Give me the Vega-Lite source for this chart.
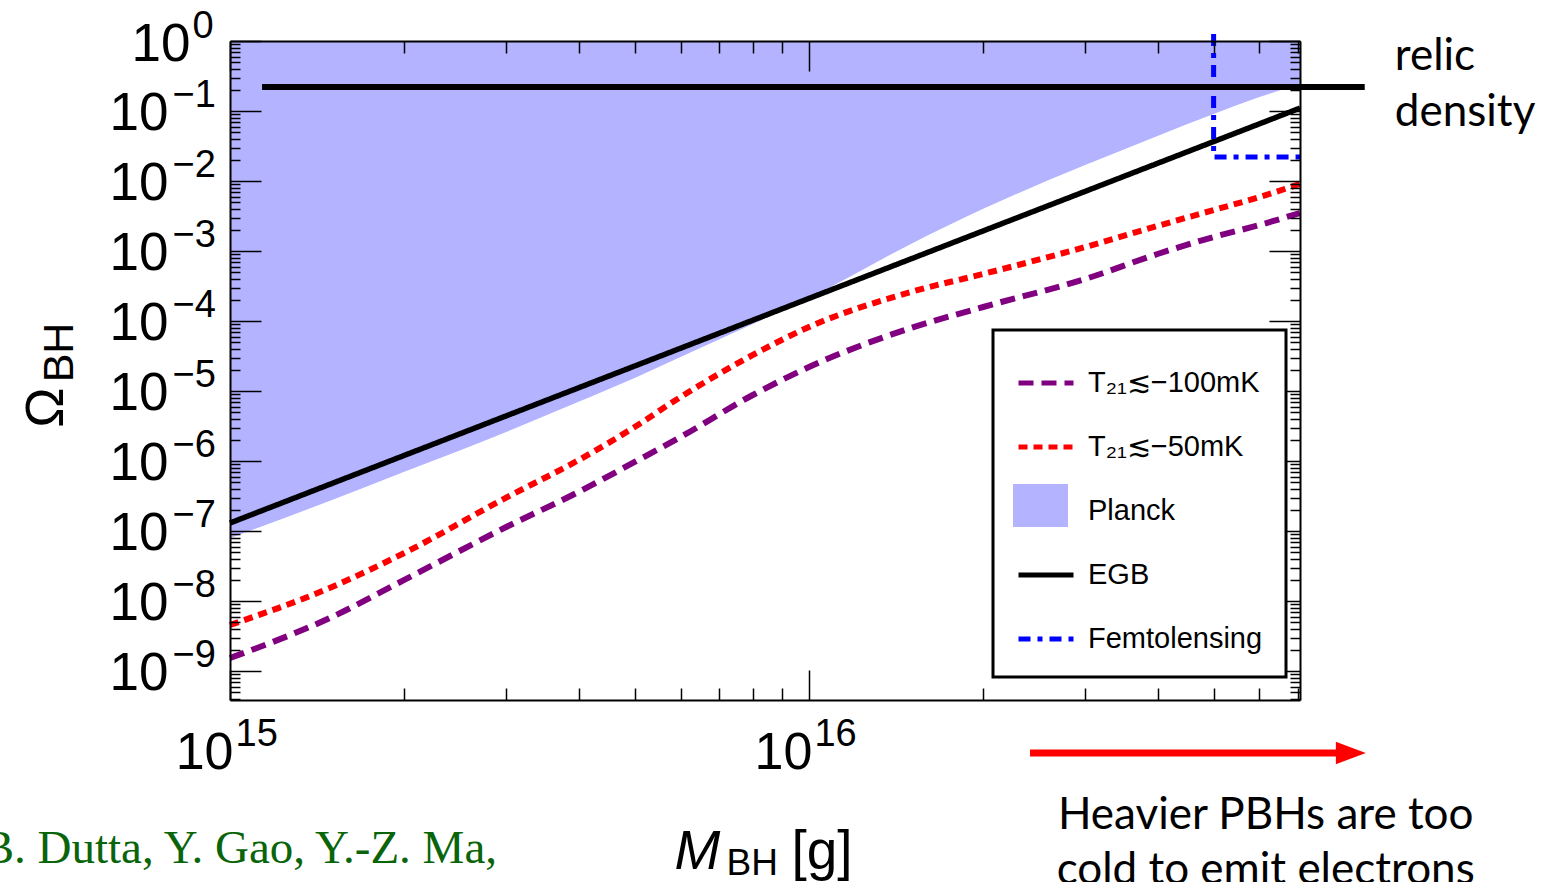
{
  "$schema": "https://vega.github.io/schema/vega-lite/v6.json",
  "width": 1070,
  "height": 659,
  "autosize": {"type": "none"},
  "padding": {"left": 230, "top": 41, "right": 256, "bottom": 182},
  "background": "white",
  "config": {
    "view": {"stroke": null},
    "legend": {"strokeWidth": 3},
    "axis": {"labelFont": "Liberation Sans", "titleFont": "Liberation Sans", "labelColor": "black", "titleColor": "black", "titleFontWeight": "normal", "tickColor": "black", "tickWidth": 1.5, "domainColor": "black", "domainWidth": 2, "grid": false, "zindex": 1, "labelOverlap": false, "labelBound": false, "labelFlush": false}
  },
  "datasets": {
    "planck": [
      {"series": "Planck", "m": 1e15, "omega": 7.9e-8},
      {"series": "Planck", "m": 1.5e15, "omega": 2.77e-7},
      {"series": "Planck", "m": 2e15, "omega": 7.0e-7},
      {"series": "Planck", "m": 3e15, "omega": 2.6e-6},
      {"series": "Planck", "m": 4e15, "omega": 7.0e-6},
      {"series": "Planck", "m": 5e15, "omega": 1.53e-5},
      {"series": "Planck", "m": 6e15, "omega": 3.06e-5},
      {"series": "Planck", "m": 8e15, "omega": 9.06e-5},
      {"series": "Planck", "m": 1e16, "omega": 2.13e-4},
      {"series": "Planck", "m": 1.5e16, "omega": 1.26e-3},
      {"series": "Planck", "m": 2e16, "omega": 4.0e-3},
      {"series": "Planck", "m": 3e16, "omega": 1.69e-2},
      {"series": "Planck", "m": 4e16, "omega": 4.4e-2},
      {"series": "Planck", "m": 5e16, "omega": 9.06e-2},
      {"series": "Planck", "m": 6e16, "omega": 0.158},
      {"series": "Planck", "m": 7.05e16, "omega": 0.243}
    ],
    "egb": [
      {"series": "EGB", "m": 1e15, "omega": 1.3e-7},
      {"series": "EGB", "m": 1e16, "omega": 2.1e-4},
      {"series": "EGB", "m": 7.05e16, "omega": 0.11}
    ],
    "t100": [
      {"series": "T₂₁≲−100mK", "m": 1e15, "omega": 1.53e-9},
      {"series": "T₂₁≲−100mK", "m": 1.5e15, "omega": 5.91e-9},
      {"series": "T₂₁≲−100mK", "m": 2e15, "omega": 2.0e-8},
      {"series": "T₂₁≲−100mK", "m": 3e15, "omega": 1.14e-7},
      {"series": "T₂₁≲−100mK", "m": 4e15, "omega": 3.61e-7},
      {"series": "T₂₁≲−100mK", "m": 5e15, "omega": 9.68e-7},
      {"series": "T₂₁≲−100mK", "m": 6e15, "omega": 2.2e-6},
      {"series": "T₂₁≲−100mK", "m": 8e15, "omega": 8.77e-6},
      {"series": "T₂₁≲−100mK", "m": 1e16, "omega": 2.2e-5},
      {"series": "T₂₁≲−100mK", "m": 1.5e16, "omega": 7.94e-5},
      {"series": "T₂₁≲−100mK", "m": 2e16, "omega": 1.585e-4},
      {"series": "T₂₁≲−100mK", "m": 3e16, "omega": 3.98e-4},
      {"series": "T₂₁≲−100mK", "m": 4e16, "omega": 9.06e-4},
      {"series": "T₂₁≲−100mK", "m": 5e16, "omega": 1.585e-3},
      {"series": "T₂₁≲−100mK", "m": 6e16, "omega": 2.35e-3},
      {"series": "T₂₁≲−100mK", "m": 7.05e16, "omega": 3.49e-3}
    ],
    "t50": [
      {"series": "T₂₁≲−50mK", "m": 1e15, "omega": 4.54e-9},
      {"series": "T₂₁≲−50mK", "m": 1.5e15, "omega": 1.585e-8},
      {"series": "T₂₁≲−50mK", "m": 2e15, "omega": 4.85e-8},
      {"series": "T₂₁≲−50mK", "m": 3e15, "omega": 3.0e-7},
      {"series": "T₂₁≲−50mK", "m": 4e15, "omega": 1.03e-6},
      {"series": "T₂₁≲−50mK", "m": 5e15, "omega": 3.06e-6},
      {"series": "T₂₁≲−50mK", "m": 6e15, "omega": 8.2e-6},
      {"series": "T₂₁≲−50mK", "m": 8e15, "omega": 3.27e-5},
      {"series": "T₂₁≲−50mK", "m": 1e16, "omega": 8.2e-5},
      {"series": "T₂₁≲−50mK", "m": 1.5e16, "omega": 2.6e-4},
      {"series": "T₂₁≲−50mK", "m": 2e16, "omega": 4.7e-4},
      {"series": "T₂₁≲−50mK", "m": 3e16, "omega": 1.14e-3},
      {"series": "T₂₁≲−50mK", "m": 4e16, "omega": 2.28e-3},
      {"series": "T₂₁≲−50mK", "m": 5e16, "omega": 3.85e-3},
      {"series": "T₂₁≲−50mK", "m": 6e16, "omega": 5.9e-3},
      {"series": "T₂₁≲−50mK", "m": 7.05e16, "omega": 9.1e-3}
    ],
    "femto": [
      {"series": "Femtolensing", "i": 0, "m": 5e16, "omega": 1.26},
      {"series": "Femtolensing", "i": 1, "m": 5e16, "omega": 0.022},
      {"series": "Femtolensing", "i": 2, "m": 7.05e16, "omega": 0.022}
    ],
    "relic": [
      {"m": 1.136e15, "omega": 0.22},
      {"m": 9.12e16, "omega": 0.22}
    ],
    "arrow": [
      {"m": 2.409e16, "omega": 6.74e-11},
      {"m": 8.26e16, "omega": 6.74e-11}
    ],
    "arrowhead": [
      {"m": 8.63e16, "omega": 6.74e-11}
    ],
    "relicNote": [{"label": "relic\ndensity", "m": 1.028e17, "omega": 0.385}],
    "coldNote": [{"label": "Heavier PBHs are too\ncold to emit electrons", "m": 6.15e16, "omega": 5.53e-12}],
    "citation": [{"label": "B. Dutta, Y. Gao, Y.-Z. Ma,", "m": 2.892e15, "omega": 1.807e-12}]
  },
  "resolve": {"axis": {"x": "independent", "y": "independent"}},
  "layer": [
    {
      "data": {"name": "planck"},
      "mark": {"type": "area", "interpolate": "monotone", "opacity": 1},
      "encoding": {
        "x": {"field": "m", "type": "quantitative",
          "scale": {"type": "log", "domain": [1e15, 7.05e16], "nice": false},
          "axis": {
            "orient": "bottom", "values": [1e15, 1e16], "zindex": 1,
            "labelExpr": "'10'",
            "labelFontSize": 52, "labelAlign": "right", "labelBaseline": "alphabetic", "labelPadding": 68, "labelOffset": 3,
            "ticks": false, "tickSize": 0, "domain": true,
            "title": "M", "titleFontSize": 55, "titleFontStyle": "italic", "titleAngle": 0,
            "titleX": 444, "titleY": 168, "titleAlign": "left", "titleBaseline": "alphabetic"
          }
        },
        "y": {"field": "omega", "type": "quantitative",
          "scale": {"type": "log", "domain": [3.85e-10, 1], "nice": false},
          "axis": {
            "orient": "left", "values": [1e-9, 1e-8, 1e-7, 1e-6, 1e-5, 1e-4, 1e-3, 0.01, 0.1], "zindex": 1,
            "labelExpr": "'10'",
            "labelFontSize": 53, "labelAlign": "right", "labelBaseline": "alphabetic", "labelPadding": 62, "labelOffset": 19,
            "ticks": false, "tickSize": 0, "domain": true,
            "title": "Ω", "titleFontSize": 54, "titleAngle": 270,
            "titleX": -168, "titleY": 366, "titleAlign": "center", "titleBaseline": "alphabetic"
          }
        },
        "y2": {"datum": 1},
        "fill": {"field": "series", "type": "nominal",
          "scale": {"domain": ["Planck"], "range": ["#b3b3ff"]},
          "legend": {
            "orient": "none", "legendX": 783, "legendY": 437, "title": null,
            "fillColor": "transparent", "strokeColor": "transparent", "padding": 0,
            "symbolType": "M-1,-0.78L1,-0.78L1,0.78L-1,0.78Z", "symbolSize": 3025, "symbolStrokeWidth": 0, "symbolOpacity": 1,
            "labelExpr": "''", "labelFontSize": 1, "labelOffset": 0, "zindex": 2
          }
        }
      }
    },
    {
      "data": {"name": "egb"},
      "mark": {"type": "line", "strokeWidth": 5.5, "strokeCap": "butt"},
      "encoding": {
        "x": {"field": "m", "type": "quantitative",
          "scale": {"type": "log", "domain": [1e15, 7.05e16], "nice": false},
          "axis": {
            "orient": "bottom", "values": [1e15, 1e16], "zindex": 1,
            "labelExpr": "'' + round(log(datum.value)/LN10)",
            "labelFontSize": 38, "labelAlign": "left", "labelBaseline": "alphabetic", "labelPadding": 45, "labelOffset": 5,
            "ticks": false, "tickSize": 0, "domain": false,
            "title": "BH", "titleFontSize": 37, "titleAngle": 0,
            "titleX": 496, "titleY": 174, "titleAlign": "left", "titleBaseline": "alphabetic"
          }
        },
        "y": {"field": "omega", "type": "quantitative",
          "scale": {"type": "log", "domain": [3.85e-10, 1], "nice": false},
          "axis": {
            "orient": "left", "values": [1e-9, 1e-8, 1e-7, 1e-6, 1e-5, 1e-4, 1e-3, 0.01, 0.1], "zindex": 1,
            "labelExpr": "'−' + abs(round(log(datum.value)/LN10))",
            "labelFontSize": 38, "labelAlign": "left", "labelBaseline": "alphabetic", "labelPadding": 58, "labelOffset": -4,
            "ticks": false, "tickSize": 0, "domain": false,
            "title": "BH", "titleFontSize": 43, "titleAngle": 270,
            "titleX": -158, "titleY": 311, "titleAlign": "center", "titleBaseline": "alphabetic"
          }
        },
        "color": {"field": "series", "type": "nominal",
          "scale": {"domain": ["T₂₁≲−100mK", "T₂₁≲−50mK", "Planck", "EGB", "Femtolensing"],
                    "range": ["#800080", "#ff0000", "transparent", "#000000", "#0000ff"]},
          "legend": {
            "orient": "none", "legendX": 763, "legendY": 289, "title": null, "direction": "vertical",
            "fillColor": "white", "strokeColor": "black", "padding": 23,
            "symbolSize": 3025, "symbolStrokeWidth": 5, "symbolType": "stroke",
            "labelFont": "Liberation Sans", "labelFontSize": 29, "labelColor": "black", "labelOffset": 12,
            "rowPadding": 19, "labelLimit": 400, "zindex": 1
          }
        },
        "strokeDash": {"field": "series", "type": "nominal",
          "scale": {"domain": ["T₂₁≲−100mK", "T₂₁≲−50mK", "Planck", "EGB", "Femtolensing"],
                    "range": [[15, 8], [9, 6], [1, 0], [1, 0], [12, 7, 5, 7]]}}
      }
    },
    {
      "data": {"name": "t100"},
      "mark": {"type": "line", "strokeWidth": 6, "strokeCap": "butt", "interpolate": "monotone"},
      "encoding": {
        "x": {"field": "m", "type": "quantitative",
          "scale": {"type": "log", "domain": [1e15, 7.05e16], "nice": false},
          "axis": {
            "orient": "bottom", "labels": false, "ticks": false, "domain": false, "zindex": 1,
            "title": "[g]", "titleFontSize": 55, "titleAngle": 0,
            "titleX": 561, "titleY": 168, "titleAlign": "left", "titleBaseline": "alphabetic"
          }
        },
        "y": {"field": "omega", "type": "quantitative",
          "scale": {"type": "log", "domain": [3.85e-10, 1], "nice": false},
          "axis": {
            "orient": "left", "values": [1], "zindex": 1,
            "labelExpr": "'10'",
            "labelFontSize": 53, "labelAlign": "right", "labelBaseline": "alphabetic", "labelPadding": 40, "labelOffset": 19,
            "ticks": false, "tickSize": 0, "domain": false, "title": null
          }
        },
        "color": {"field": "series", "type": "nominal",
          "scale": {"domain": ["T₂₁≲−100mK", "T₂₁≲−50mK", "Planck", "EGB", "Femtolensing"],
                    "range": ["#800080", "#ff0000", "transparent", "#000000", "#0000ff"]}},
        "strokeDash": {"field": "series", "type": "nominal",
          "scale": {"domain": ["T₂₁≲−100mK", "T₂₁≲−50mK", "Planck", "EGB", "Femtolensing"],
                    "range": [[15, 8], [9, 6], [1, 0], [1, 0], [12, 7, 5, 7]]}}
      }
    },
    {
      "data": {"name": "t50"},
      "mark": {"type": "line", "strokeWidth": 6, "strokeCap": "butt", "interpolate": "monotone"},
      "encoding": {
        "x": {"field": "m", "type": "quantitative",
          "scale": {"type": "log", "domain": [1e15, 7.05e16], "nice": false},
          "axis": {
            "orient": "bottom", "values": [1e15, 1e16], "zindex": 1,
            "labels": false, "ticks": true, "tickSize": -30, "domain": false, "title": null
          }
        },
        "y": {"field": "omega", "type": "quantitative",
          "scale": {"type": "log", "domain": [3.85e-10, 1], "nice": false},
          "axis": {
            "orient": "left", "values": [1], "zindex": 1,
            "labelExpr": "'0'",
            "labelFontSize": 38, "labelAlign": "left", "labelBaseline": "alphabetic", "labelPadding": 38, "labelOffset": -4,
            "ticks": false, "tickSize": 0, "domain": false, "title": null
          }
        },
        "color": {"field": "series", "type": "nominal",
          "scale": {"domain": ["T₂₁≲−100mK", "T₂₁≲−50mK", "Planck", "EGB", "Femtolensing"],
                    "range": ["#800080", "#ff0000", "transparent", "#000000", "#0000ff"]}},
        "strokeDash": {"field": "series", "type": "nominal",
          "scale": {"domain": ["T₂₁≲−100mK", "T₂₁≲−50mK", "Planck", "EGB", "Femtolensing"],
                    "range": [[15, 8], [9, 6], [1, 0], [1, 0], [12, 7, 5, 7]]}}
      }
    },
    {
      "data": {"name": "femto"},
      "mark": {"type": "line", "strokeWidth": 5, "strokeCap": "butt"},
      "encoding": {
        "x": {"field": "m", "type": "quantitative",
          "scale": {"type": "log", "domain": [1e15, 7.05e16], "nice": false},
          "axis": {
            "orient": "bottom", "zindex": 1,
            "values": [2e15, 3e15, 4e15, 5e15, 6e15, 7e15, 8e15, 9e15, 2e16, 3e16, 4e16, 5e16, 6e16, 7e16],
            "labels": false, "ticks": true, "tickSize": -12, "domain": false, "title": null
          }
        },
        "y": {"field": "omega", "type": "quantitative",
          "scale": {"type": "log", "domain": [3.85e-10, 1], "nice": false},
          "axis": {
            "orient": "left", "values": [1e-9, 1e-8, 1e-7, 1e-6, 1e-5, 1e-4, 1e-3, 0.01, 0.1, 1], "zindex": 1,
            "labels": false, "ticks": true, "tickSize": -31, "domain": false, "title": null
          }
        },
        "order": {"field": "i", "type": "quantitative"},
        "color": {"field": "series", "type": "nominal",
          "scale": {"domain": ["T₂₁≲−100mK", "T₂₁≲−50mK", "Planck", "EGB", "Femtolensing"],
                    "range": ["#800080", "#ff0000", "transparent", "#000000", "#0000ff"]}},
        "strokeDash": {"field": "series", "type": "nominal",
          "scale": {"domain": ["T₂₁≲−100mK", "T₂₁≲−50mK", "Planck", "EGB", "Femtolensing"],
                    "range": [[15, 8], [9, 6], [1, 0], [1, 0], [12, 7, 5, 7]]}}
      }
    },
    {
      "data": {"name": "relic"},
      "mark": {"type": "line", "strokeWidth": 6, "color": "black", "strokeCap": "butt"},
      "encoding": {
        "x": {"field": "m", "type": "quantitative",
          "scale": {"type": "log", "domain": [1e15, 7.05e16], "nice": false},
          "axis": {
            "orient": "top", "values": [1e15, 1e16], "zindex": 1,
            "labels": false, "ticks": true, "tickSize": -30, "domain": true, "title": null
          }
        },
        "y": {"field": "omega", "type": "quantitative",
          "scale": {"type": "log", "domain": [3.85e-10, 1], "nice": false},
          "axis": {
            "orient": "left", "zindex": 1,
            "values": [4e-10, 5e-10, 6e-10, 7e-10, 8e-10, 9e-10,
              2e-9, 3e-9, 4e-9, 5e-9, 6e-9, 7e-9, 8e-9, 9e-9,
              2e-8, 3e-8, 4e-8, 5e-8, 6e-8, 7e-8, 8e-8, 9e-8,
              2e-7, 3e-7, 4e-7, 5e-7, 6e-7, 7e-7, 8e-7, 9e-7,
              2e-6, 3e-6, 4e-6, 5e-6, 6e-6, 7e-6, 8e-6, 9e-6,
              2e-5, 3e-5, 4e-5, 5e-5, 6e-5, 7e-5, 8e-5, 9e-5,
              2e-4, 3e-4, 4e-4, 5e-4, 6e-4, 7e-4, 8e-4, 9e-4,
              2e-3, 3e-3, 4e-3, 5e-3, 6e-3, 7e-3, 8e-3, 9e-3,
              0.02, 0.03, 0.04, 0.05, 0.06, 0.07, 0.08, 0.09,
              0.2, 0.3, 0.4, 0.5, 0.6, 0.7, 0.8, 0.9],
            "labels": false, "ticks": true, "tickSize": -10, "domain": false, "title": null
          }
        }
      }
    },
    {
      "data": {"name": "arrow"},
      "mark": {"type": "line", "strokeWidth": 7, "color": "#ff0000", "strokeCap": "butt"},
      "encoding": {
        "x": {"field": "m", "type": "quantitative",
          "scale": {"type": "log", "domain": [1e15, 7.05e16], "nice": false},
          "axis": {
            "orient": "top", "zindex": 1,
            "values": [2e15, 3e15, 4e15, 5e15, 6e15, 7e15, 8e15, 9e15, 2e16, 3e16, 4e16, 5e16, 6e16, 7e16],
            "labels": false, "ticks": true, "tickSize": -12, "domain": false, "title": null
          }
        },
        "y": {"field": "omega", "type": "quantitative",
          "scale": {"type": "log", "domain": [3.85e-10, 1], "nice": false},
          "axis": {
            "orient": "right", "values": [1e-9, 1e-8, 1e-7, 1e-6, 1e-5, 1e-4, 1e-3, 0.01, 0.1, 1], "zindex": 1,
            "labels": false, "ticks": true, "tickSize": -31, "domain": true, "title": null
          }
        }
      }
    },
    {
      "data": {"name": "arrowhead"},
      "mark": {"type": "point", "shape": "M-1,-0.75L1,0L-1,0.75Z", "size": 900, "filled": true, "color": "#ff0000", "opacity": 1, "strokeWidth": 0},
      "encoding": {
        "x": {"field": "m", "type": "quantitative",
          "scale": {"type": "log", "domain": [1e15, 7.05e16], "nice": false}, "axis": null},
        "y": {"field": "omega", "type": "quantitative",
          "scale": {"type": "log", "domain": [3.85e-10, 1], "nice": false},
          "axis": {
            "orient": "right", "zindex": 1,
            "values": [4e-10, 5e-10, 6e-10, 7e-10, 8e-10, 9e-10,
              2e-9, 3e-9, 4e-9, 5e-9, 6e-9, 7e-9, 8e-9, 9e-9,
              2e-8, 3e-8, 4e-8, 5e-8, 6e-8, 7e-8, 8e-8, 9e-8,
              2e-7, 3e-7, 4e-7, 5e-7, 6e-7, 7e-7, 8e-7, 9e-7,
              2e-6, 3e-6, 4e-6, 5e-6, 6e-6, 7e-6, 8e-6, 9e-6,
              2e-5, 3e-5, 4e-5, 5e-5, 6e-5, 7e-5, 8e-5, 9e-5,
              2e-4, 3e-4, 4e-4, 5e-4, 6e-4, 7e-4, 8e-4, 9e-4,
              2e-3, 3e-3, 4e-3, 5e-3, 6e-3, 7e-3, 8e-3, 9e-3,
              0.02, 0.03, 0.04, 0.05, 0.06, 0.07, 0.08, 0.09,
              0.2, 0.3, 0.4, 0.5, 0.6, 0.7, 0.8, 0.9],
            "labels": false, "ticks": true, "tickSize": -10, "domain": false, "title": null
          }
        }
      }
    },
    {
      "data": {"name": "relicNote"},
      "mark": {"type": "text", "font": "Lato", "fontSize": 44, "align": "left", "baseline": "alphabetic", "lineBreak": "\n", "lineHeight": 56, "color": "black"},
      "encoding": {
        "x": {"field": "m", "type": "quantitative",
          "scale": {"type": "log", "domain": [1e15, 7.05e16], "nice": false}, "axis": null},
        "y": {"field": "omega", "type": "quantitative",
          "scale": {"type": "log", "domain": [3.85e-10, 1], "nice": false}, "axis": null},
        "text": {"field": "label"}
      }
    },
    {
      "data": {"name": "coldNote"},
      "mark": {"type": "text", "font": "Lato", "fontSize": 44, "align": "center", "baseline": "alphabetic", "lineBreak": "\n", "lineHeight": 55, "color": "black"},
      "encoding": {
        "x": {"field": "m", "type": "quantitative",
          "scale": {"type": "log", "domain": [1e15, 7.05e16], "nice": false}, "axis": null},
        "y": {"field": "omega", "type": "quantitative",
          "scale": {"type": "log", "domain": [3.85e-10, 1], "nice": false}, "axis": null},
        "text": {"field": "label"}
      }
    },
    {
      "data": {"name": "citation"},
      "mark": {"type": "text", "font": "Liberation Serif", "fontSize": 47, "align": "right", "baseline": "alphabetic", "color": "#0a640a"},
      "encoding": {
        "x": {"field": "m", "type": "quantitative",
          "scale": {"type": "log", "domain": [1e15, 7.05e16], "nice": false}, "axis": null},
        "y": {"field": "omega", "type": "quantitative",
          "scale": {"type": "log", "domain": [3.85e-10, 1], "nice": false}, "axis": null},
        "text": {"field": "label"}
      }
    }
  ]
}
